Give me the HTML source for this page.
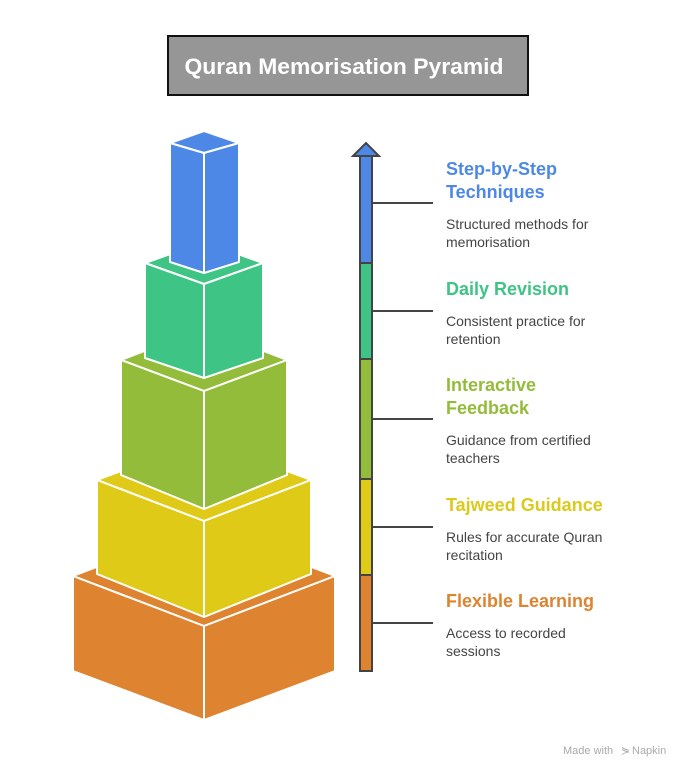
<!DOCTYPE html>
<html><head><meta charset="utf-8"><style>
html,body{margin:0;padding:0;background:#fff;}
svg{display:block;font-family:"Liberation Sans",sans-serif;}
</style></head><body>
<svg width="696" height="778" viewBox="0 0 696 778" xmlns="http://www.w3.org/2000/svg">
<rect x="168" y="36" width="360" height="59" fill="#969696" stroke="#111" stroke-width="2"/>
<text x="344" y="74" text-anchor="middle" font-size="22" font-weight="bold" fill="#fff" textLength="319" lengthAdjust="spacingAndGlyphs">Quran Memorisation Pyramid</text>

<g stroke="#fff" stroke-width="2" stroke-linejoin="round">
<!-- orange -->
<polygon points="73,576 204,526 335,576 204,626" fill="#DE8431"/>
<polygon points="73,576 204,626 204,720 73,671" fill="#DE8431"/>
<polygon points="335,576 204,626 204,720 335,671" fill="#DE8431"/>
<!-- yellow -->
<polygon points="97,480 204,440 311,480 204,521" fill="#DFCB17"/>
<polygon points="97,480 204,521 204,617 97,574" fill="#DFCB17"/>
<polygon points="311,480 204,521 204,617 311,574" fill="#DFCB17"/>
<!-- olive -->
<polygon points="121,360 204,328 287,360 204,391" fill="#93BC3A"/>
<polygon points="121,360 204,391 204,509 121,475" fill="#93BC3A"/>
<polygon points="287,360 204,391 204,509 287,475" fill="#93BC3A"/>
<!-- green -->
<polygon points="145,263 204,242 263,263 204,284" fill="#3EC484"/>
<polygon points="145,263 204,284 204,378 145,358" fill="#3EC484"/>
<polygon points="263,263 204,284 204,378 263,358" fill="#3EC484"/>
<!-- blue -->
<polygon points="170,143 204,131 239,143 204,153" fill="#4E88E6"/>
<polygon points="170,143 204,153 204,273 170,262" fill="#4E88E6"/>
<polygon points="239,143 204,153 204,273 239,262" fill="#4E88E6"/>
</g>

<!-- arrow -->
<g stroke="#444" stroke-width="2">
<rect x="360" y="156" width="12" height="107" fill="#4E88E6"/>
<rect x="360" y="263" width="12" height="96" fill="#3EC484"/>
<rect x="360" y="359" width="12" height="120" fill="#93BC3A"/>
<rect x="360" y="479" width="12" height="96" fill="#DFCB17"/>
<rect x="360" y="575" width="12" height="96" fill="#DE8431"/>
<polygon points="353,156 366,143 379,156" fill="#4E88E6" stroke-linejoin="miter"/>
<line x1="372" y1="203" x2="433" y2="203"/>
<line x1="372" y1="311" x2="433" y2="311"/>
<line x1="372" y1="419" x2="433" y2="419"/>
<line x1="372" y1="527" x2="433" y2="527"/>
<line x1="372" y1="623" x2="433" y2="623"/>
</g>

<g font-size="18" font-weight="bold">
<text x="446" y="175" fill="#4E88E6">Step-by-Step</text>
<text x="446" y="198" fill="#4E88E6">Techniques</text>
<text x="446" y="295" fill="#3EC484">Daily Revision</text>
<text x="446" y="391" fill="#93BC3A">Interactive</text>
<text x="446" y="414" fill="#93BC3A">Feedback</text>
<text x="446" y="511" fill="#DCC91B">Tajweed Guidance</text>
<text x="446" y="607" fill="#DE8431">Flexible Learning</text>
</g>
<g font-size="14" fill="#444">
<text x="446" y="229">Structured methods for</text>
<text x="446" y="247">memorisation</text>
<text x="446" y="326">Consistent practice for</text>
<text x="446" y="344">retention</text>
<text x="446" y="445">Guidance from certified</text>
<text x="446" y="463">teachers</text>
<text x="446" y="542">Rules for accurate Quran</text>
<text x="446" y="560">recitation</text>
<text x="446" y="638">Access to recorded</text>
<text x="446" y="656">sessions</text>
</g>
<text x="563" y="754" font-size="11" fill="#aaa">Made with</text>
<text x="621" y="754" font-size="11" fill="#aaa">⋟</text>
<text x="632" y="754" font-size="11" fill="#aaa">Napkin</text>
</svg>
</body></html>
